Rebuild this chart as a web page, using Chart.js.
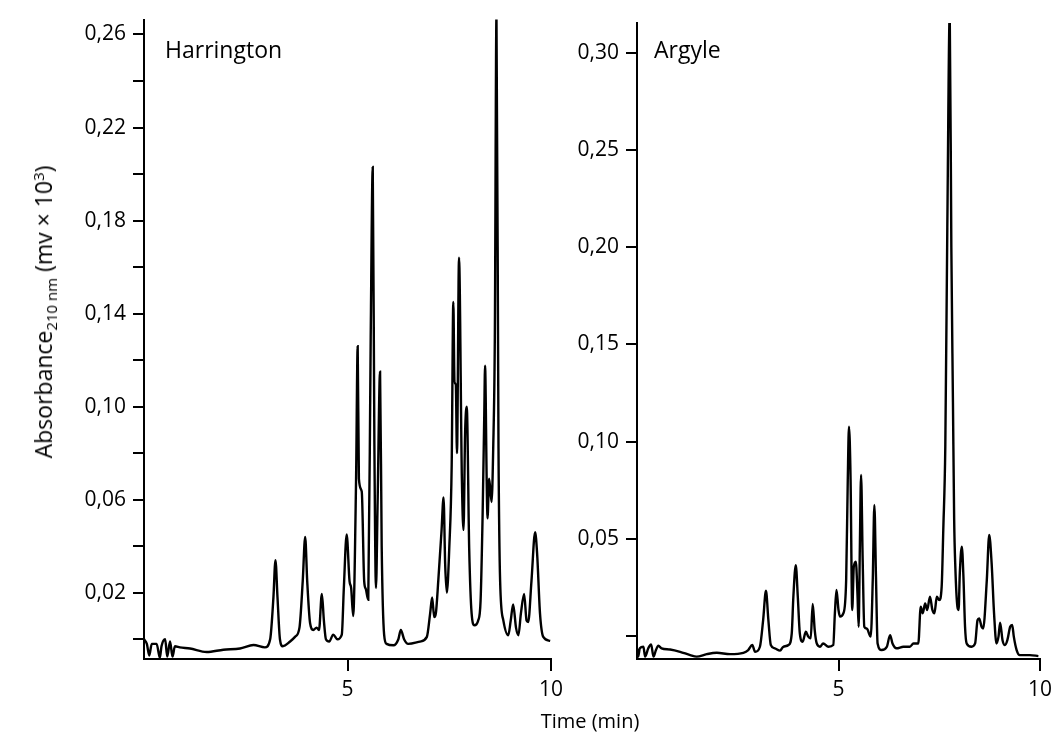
<!DOCTYPE html>
<html lang="en">
<head>
    <meta charset="UTF-8">
    <title>Harrington / Argyle chromatograms</title>
    <script src="https://cdn.jsdelivr.net/npm/chart.js"></script>
    <style>
        body {
            margin: 0;
            background: #fff;
            font-family: "Open Sans", Arial, sans-serif;
            color: #000;
        }
        #wrap {
            position: relative;
            width: 1063px;
            height: 734px;
            overflow: hidden;
        }
        .panel {
            position: absolute;
            top: 0;
            height: 734px;
        }
        .label {
            position: absolute;
            font-size: 23px;
            line-height: 1;
        }
        .ytitle {
            position: absolute;
            left: 44px;
            top: 312px;
            transform: translate(-50%, -50%) rotate(-90deg);
            white-space: nowrap;
            font-size: 23px;
        }
        .ytitle sub { font-size: 15px; vertical-align: -5px; }
        .ytitle sup { font-size: 15px; vertical-align: 8px; }
        .xtitle {
            position: absolute;
            left: 590px;
            top: 720px;
            transform: translate(-50%, -50%);
            font-size: 20px;
            white-space: nowrap;
        }
    </style>
</head>
<body>

<div id="wrap">
    <!-- canvases are transparent, so the two panels may overlap a little -->
    <div class="panel" style="left:0;width:590px"><canvas id="harrington" width="590" height="734"></canvas></div>
    <div class="panel" style="left:566px;width:497px"><canvas id="argyle" width="497" height="734"></canvas></div>
    <div class="label" style="left:165px;top:38px">Harrington</div>
    <div class="label" style="left:654px;top:38px">Argyle</div>
    <div class="ytitle">Absorbance<sub>210 nm</sub> (mv × 10<sup>3</sup>)</div>
    <div class="xtitle">Time (min)</div>
</div>

<script>
    // Harrington trace (time in min, absorbance)
    const harringtonTime = [
        0.00, 0.07, 0.13, 0.19, 0.31, 0.39, 0.43, 0.52, 0.57, 0.64, 0.70, 0.76, 0.88, 1.13, 1.54, 1.95,
        2.36, 2.69, 2.97, 3.10, 3.18, 3.23, 3.28, 3.34, 3.41, 3.59, 3.71, 3.82, 3.90, 3.96, 4.01, 4.08,
        4.16, 4.24, 4.30, 4.37, 4.42, 4.47, 4.55, 4.65, 4.75, 4.86, 4.91, 4.98, 5.05, 5.09, 5.14, 5.21,
        5.25, 5.28, 5.35, 5.41, 5.45, 5.51, 5.57, 5.62, 5.66, 5.70, 5.74, 5.80, 5.84, 5.90, 5.96, 6.13,
        6.25, 6.31, 6.39, 6.49, 6.78, 6.95, 7.03, 7.08, 7.13, 7.17, 7.23, 7.31, 7.36, 7.40, 7.44, 7.50,
        7.56, 7.60, 7.63, 7.66, 7.69, 7.74, 7.81, 7.85, 7.89, 7.93, 7.99, 8.05, 8.12, 8.21, 8.27, 8.32,
        8.36, 8.38, 8.42, 8.44, 8.48, 8.54, 8.58, 8.62, 8.66, 8.71, 8.75, 8.83, 8.95, 9.01, 9.07, 9.14,
        9.20, 9.26, 9.34, 9.40, 9.44, 9.52, 9.61, 9.66, 9.73, 9.81, 9.98
    ];
    const harringtonAbs = [
        0.000, -0.002, -0.007, -0.002, -0.002, -0.008, -0.003, 0.000, -0.0075, -0.001, -0.0075, -0.003, -0.0035, -0.004, -0.0055, -0.0045,
        -0.004, -0.0025, -0.0035, 0.000, 0.018, 0.034, 0.018, 0.000, -0.003, -0.001, 0.001, 0.005, 0.025, 0.044, 0.025, 0.007,
        0.004, 0.005, 0.004, 0.0195, 0.008, 0.000, -0.001, 0.002, 0.000, 0.002, 0.022, 0.045, 0.025, 0.022, 0.010, 0.068,
        0.126, 0.069, 0.0635, 0.025, 0.0216, 0.017, 0.130, 0.203, 0.085, 0.022, 0.059, 0.115, 0.040, 0.002, -0.002, -0.0026,
        0.000, 0.004, 0.000, -0.002, -0.001, 0.001, 0.011, 0.018, 0.0095, 0.011, 0.025, 0.0465, 0.061, 0.032, 0.020, 0.039,
        0.075, 0.145, 0.110, 0.110, 0.080, 0.164, 0.069, 0.047, 0.089, 0.100, 0.039, 0.011, 0.006, 0.008, 0.0166, 0.0536,
        0.096, 0.1176, 0.068, 0.052, 0.069, 0.059, 0.082, 0.130, 0.268, 0.082, 0.025, 0.008, 0.0017, 0.008, 0.015, 0.005,
        0.0017, 0.011, 0.0195, 0.008, 0.0074, 0.025, 0.046, 0.0365, 0.011, 0.001, -0.0007
    ];

    // Argyle trace (time in min, absorbance)
    const argyleTime = [
        0.00, 0.03, 0.07, 0.16, 0.20, 0.28, 0.35, 0.41, 0.47, 0.53, 0.61, 0.82, 1.07, 1.32, 1.48, 1.73,
        1.98, 2.31, 2.64, 2.76, 2.86, 2.93, 3.05, 3.13, 3.20, 3.26, 3.32, 3.42, 3.55, 3.63, 3.76, 3.84,
        3.88, 3.94, 3.99, 4.04, 4.11, 4.19, 4.25, 4.31, 4.36, 4.41, 4.46, 4.54, 4.62, 4.75, 4.87, 4.91,
        4.95, 5.00, 5.04, 5.12, 5.19, 5.23, 5.26, 5.30, 5.34, 5.38, 5.43, 5.47, 5.50, 5.53, 5.56, 5.60,
        5.64, 5.70, 5.80, 5.85, 5.89, 5.93, 5.97, 6.07, 6.20, 6.28, 6.34, 6.44, 6.61, 6.77, 6.86, 6.98,
        7.04, 7.09, 7.15, 7.20, 7.27, 7.33, 7.38, 7.44, 7.50, 7.56, 7.60, 7.65, 7.70, 7.76, 7.80, 7.84,
        7.87, 7.90, 7.95, 7.98, 8.01, 8.06, 8.10, 8.14, 8.18, 8.30, 8.39, 8.45, 8.49, 8.55, 8.59, 8.68,
        8.74, 8.80, 8.86, 8.92, 8.97, 9.01, 9.07, 9.13, 9.19, 9.26, 9.31, 9.35, 9.42, 9.50, 9.75, 9.96
    ];
    const argyleAbs = [
        -0.0063, -0.0106, -0.0063, -0.0055, -0.0106, -0.0063, -0.0043, -0.0106, -0.0072, -0.0050, -0.0063, -0.0069, -0.0081, -0.0098, -0.0106, -0.0093,
        -0.0086, -0.0093, -0.0086, -0.0072, -0.0046, -0.0081, -0.0055, 0.0082, 0.0233, 0.0082, -0.0046, -0.0063, -0.0075, -0.0055, -0.0046, 0.0014,
        0.0202, 0.0365, 0.0202, 0.0014, -0.0029, 0.0022, -0.0003, -0.0012, 0.0165, 0.0031, -0.0038, -0.0055, -0.0038, -0.0055, -0.0046, 0.0117,
        0.0237, 0.0134, 0.0100, 0.0117, 0.0288, 0.0803, 0.1077, 0.0803, 0.0134, 0.0357, 0.0383, 0.0220, 0.0048, 0.0460, 0.0829, 0.0391,
        0.0048, 0.0039, -0.0003, 0.0288, 0.0674, 0.0305, -0.0038, -0.0072, -0.0055, 0.0005, -0.0038, -0.0063, -0.0055, -0.0055, -0.0038, -0.0038,
        0.0151, 0.0117, 0.0168, 0.0134, 0.0202, 0.0134, 0.0117, 0.0202, 0.0185, 0.0254, 0.0546, 0.0974, 0.210, 0.320, 0.200, 0.120,
        0.060, 0.035, 0.0151, 0.0134, 0.0323, 0.0460, 0.0305, 0.0048, -0.0038, -0.0055, -0.0038, 0.0082, 0.0091, 0.0048, 0.0039, 0.0288,
        0.0520, 0.0374, 0.0117, -0.0038, -0.0003, 0.0069, -0.0021, -0.0046, -0.0021, 0.0048, 0.0057, -0.0003, -0.0072, -0.0098, -0.0098, -0.0103
    ];

    // axis ticks
    const harringtonYTicks = [0, 0.02, 0.04, 0.06, 0.08, 0.10, 0.12, 0.14, 0.16, 0.18, 0.20, 0.22, 0.24, 0.26];
    const harringtonYLabels = [0.02, 0.06, 0.10, 0.14, 0.18, 0.22, 0.26];
    const argyleYTicks = [0, 0.05, 0.10, 0.15, 0.20, 0.25, 0.30];
    const argyleYLabels = [0.05, 0.10, 0.15, 0.20, 0.25, 0.30];
    const timeTicks = [5, 10];

    const tickFont = { family: '"Open Sans", Arial, sans-serif', size: 21 };

    function commaLabel(labels) {
        return function (value) {
            const hit = labels.some(l => Math.abs(l - value) < 1e-6);
            return hit ? value.toFixed(2).replace('.', ',') : '';
        };
    }

    function makeChart(id, times, values, yMin, yMax, yTicks, yLabels, layout) {
        const ctx = document.getElementById(id).getContext('2d');
        return new Chart(ctx, {
            type: 'line',
            data: {
                datasets: [{
                    data: times.map((t, i) => ({ x: t, y: values[i] })),
                    borderColor: '#000',
                    borderWidth: 2.4,
                    cubicInterpolationMode: 'monotone',
                    pointRadius: 0,
                    fill: false
                }]
            },
            options: {
                responsive: false,
                animation: false,
                layout: { padding: { top: layout.top, right: layout.right, left: 0, bottom: 0 } },
                plugins: { legend: { display: false }, tooltip: { enabled: false } },
                scales: {
                    x: {
                        type: 'linear',
                        min: 0,
                        max: 10,
                        afterBuildTicks: s => { s.ticks = timeTicks.map(v => ({ value: v })); },
                        afterFit: s => { s.height = 734 - 659; },
                        border: { display: true, color: '#000', width: 2 },
                        grid: { drawOnChartArea: false, drawTicks: true, tickLength: 12, color: '#000', lineWidth: 2 },
                        ticks: { color: '#000', font: tickFont, padding: 6, maxRotation: 0, autoSkip: false }
                    },
                    y: {
                        min: yMin,
                        max: yMax,
                        afterBuildTicks: s => { s.ticks = yTicks.map(v => ({ value: v })); },
                        afterFit: s => { s.width = layout.axisX; },
                        border: { display: true, color: '#000', width: 2 },
                        grid: { drawOnChartArea: false, drawTicks: true, tickLength: 11, color: '#000', lineWidth: 2 },
                        ticks: { color: '#000', font: tickFont, padding: 7, autoSkip: false, callback: commaLabel(yLabels) }
                    }
                }
            }
        });
    }

    makeChart('harrington', harringtonTime, harringtonAbs, -0.0085, 0.2664,
        harringtonYTicks, harringtonYLabels, { top: 14, right: 39, axisX: 144 });
    makeChart('argyle', argyleTime, argyleAbs, -0.0118, 0.3154,
        argyleYTicks, argyleYLabels, { top: 23, right: 23, axisX: 71 });
</script>

</body>
</html>
